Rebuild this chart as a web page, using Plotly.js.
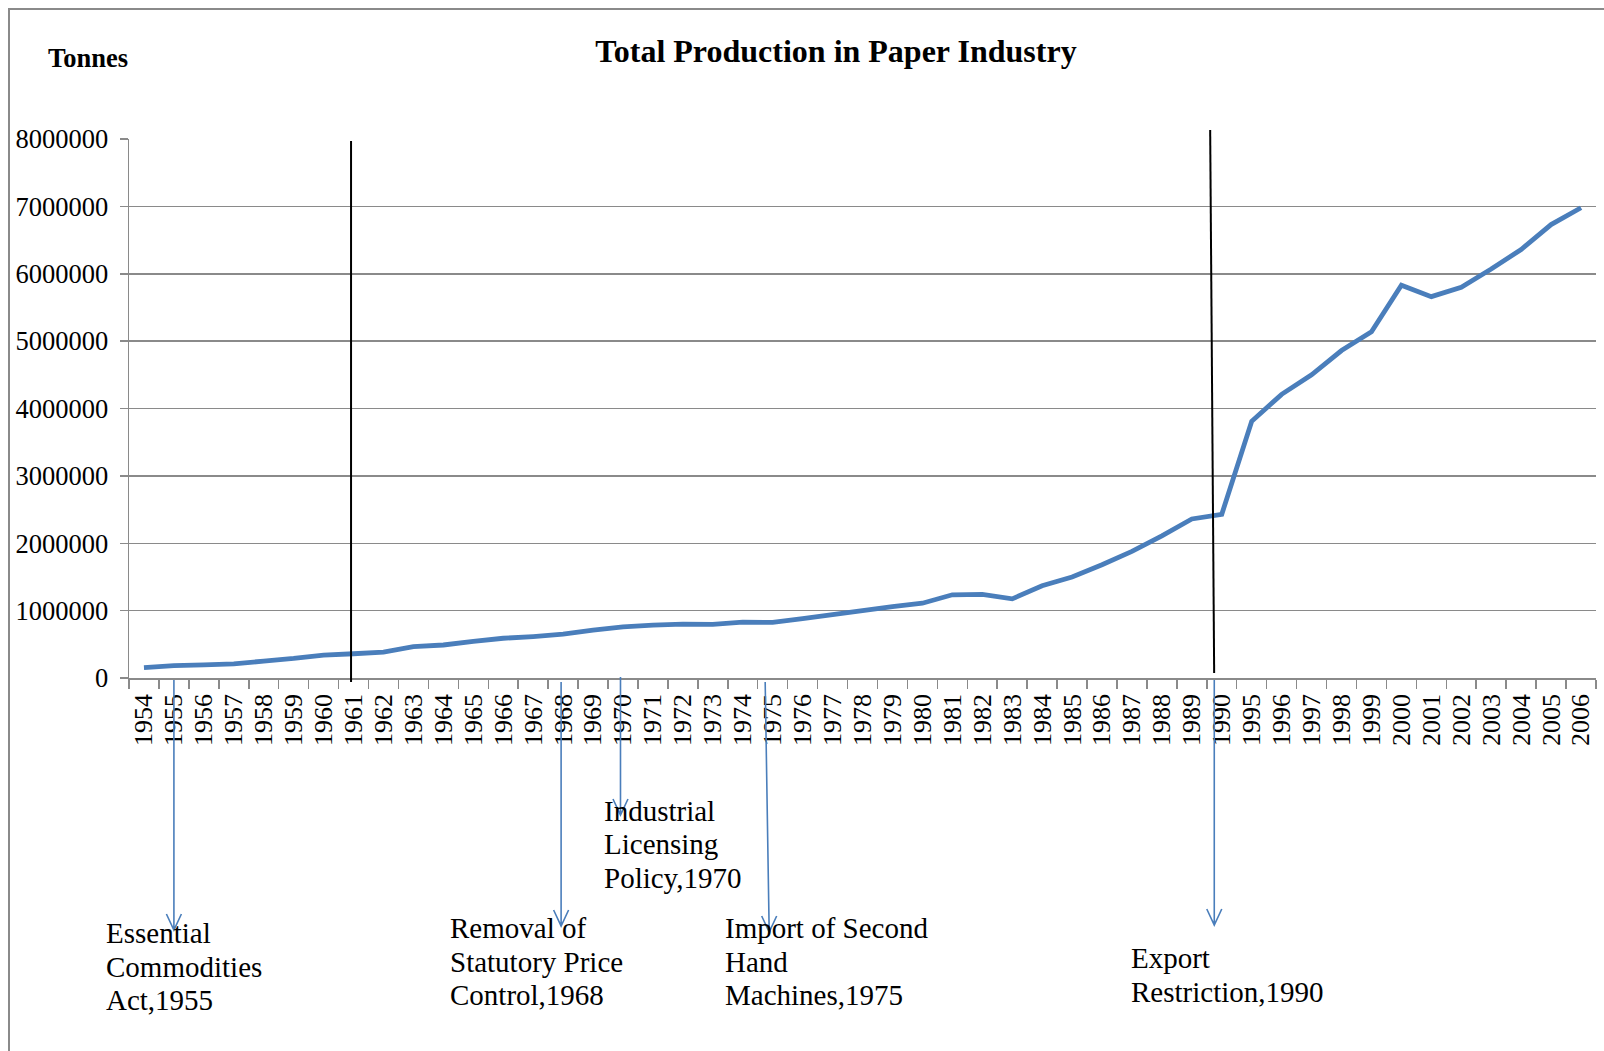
<!DOCTYPE html>
<html>
<head>
<meta charset="utf-8">
<script src="https://cdn.plot.ly/plotly-3.0.1.min.js"></script>
<style>
  html, body { margin: 0; padding: 0; background: #ffffff; }
  #chart { width: 1604px; height: 1051px; }
</style>
</head>
<body>
<div id="chart"></div>
<script>
// Years on the category axis (1991-1994 are not reported)
const years = ['1954','1955','1956','1957','1958','1959','1960','1961','1962','1963',
  '1964','1965','1966','1967','1968','1969','1970','1971','1972','1973',
  '1974','1975','1976','1977','1978','1979','1980','1981','1982','1983',
  '1984','1985','1986','1987','1988','1989','1990','1995','1996','1997',
  '1998','1999','2000','2001','2002','2003','2004','2005','2006'];

// Total paper production, tonnes
const production = [155000, 185000, 195000, 210000, 250000, 290000, 340000, 360000, 385000, 465000,
  490000, 545000, 590000, 615000, 650000, 710000, 760000, 785000, 800000, 795000,
  830000, 825000, 880000, 940000, 1000000, 1060000, 1110000, 1235000, 1240000, 1175000,
  1370000, 1500000, 1680000, 1880000, 2110000, 2360000, 2430000, 3810000, 4210000, 4500000,
  4860000, 5140000, 5830000, 5660000, 5800000, 6070000, 6360000, 6730000, 6980000];

// Value axis ticks
const yTicks = [0, 1000000, 2000000, 3000000, 4000000, 5000000, 6000000, 7000000, 8000000];

// Policy events and their captions
const policyYears = ['1955', '1968', '1970', '1975', '1990'];
const policyLabels = [
  ['Essential', 'Commodities', 'Act,1955'],
  ['Removal of', 'Statutory Price', 'Control,1968'],
  ['Industrial', 'Licensing', 'Policy,1970'],
  ['Import of Second', 'Hand', 'Machines,1975'],
  ['Export', 'Restriction,1990']
];

// Period dividers
const dividerYears = ['1961', '1990'];

// ---- page geometry ----
const W = 1604, H = 1051;
const M = { l: 129, r: 8, t: 139, b: 373 };
const plotW = W - M.l - M.r;
const plotH = H - M.t - M.b;
const px2x = px => (px - M.l) / plotW;
const px2y = py => (H - M.b - py) / plotH;

const FONT = 'Liberation Serif, "Times New Roman", serif';
const GRID = '#8a8a8a';
const BLUE = '#4a7ebb';

// Arrow / caption placement (pixel offsets from the event category, page pixels)
const eventGeom = [
  { dxTop: 0,    dxTip: 0,    top: 680, tip: 930, textX: 104,  textY: 933 },
  { dxTop: -2,   dxTip: -2,   top: 682, tip: 926, textX: 448,  textY: 928 },
  { dxTop: -2.5, dxTip: -2.5, top: 677, tip: 815, textX: 602,  textY: 811 },
  { dxTop: -7.5, dxTip: -3.5, top: 682, tip: 932, textX: 723,  textY: 928 },
  { dxTop: -7.5, dxTip: -7.5, top: 680, tip: 925, textX: 1129, textY: 958 }
];
const LINE_GAP = 33.5;

const dividerGeom = [
  { dxTop: -2.5,  dxBottom: -2.5, top: 141, bottom: 682 },
  { dxTop: -11.6, dxBottom: -7.6, top: 130, bottom: 673 }
];

const shapes = [];
const annotations = [];

// outer chart border
shapes.push({
  type: 'rect', xref: 'paper', yref: 'paper',
  x0: px2x(9), x1: px2x(1640), y0: px2y(9), y1: px2y(1090),
  line: { color: GRID, width: 2 }, fillcolor: 'rgba(0,0,0,0)', layer: 'above'
});

// black period dividers
dividerYears.forEach((yr, i) => {
  const g = dividerGeom[i];
  shapes.push({
    type: 'line', xref: 'x', yref: 'paper', xsizemode: 'pixel',
    xanchor: years.indexOf(yr),
    x0: g.dxBottom, x1: g.dxTop,
    y0: px2y(g.bottom), y1: px2y(g.top),
    line: { color: '#000000', width: 2 }
  });
});

// blue arrows with open heads, plus captions
policyYears.forEach((yr, i) => {
  const g = eventGeom[i];
  const len = g.tip - g.top;
  const path = `M${g.dxTop},${len} L${g.dxTip},0 M${g.dxTip - 7.5},16 L${g.dxTip},0 L${g.dxTip + 7.5},16`;
  shapes.push({
    type: 'path', xref: 'x', yref: 'paper',
    xsizemode: 'pixel', ysizemode: 'pixel',
    xanchor: years.indexOf(yr), yanchor: px2y(g.tip),
    path: path,
    line: { color: BLUE, width: 1.6 }
  });
  policyLabels[i].forEach((txt, j) => {
    annotations.push({
      text: txt, xref: 'paper', yref: 'paper',
      x: px2x(g.textX), y: px2y(g.textY + j * LINE_GAP),
      xanchor: 'left', yanchor: 'middle', align: 'left',
      showarrow: false,
      font: { family: FONT, size: 29, color: '#000000' }
    });
  });
});

// unit label
annotations.push({
  text: 'Tonnes', xref: 'paper', yref: 'paper',
  x: px2x(87.5), y: px2y(58), xanchor: 'center', yanchor: 'middle',
  showarrow: false,
  font: { family: FONT, size: 26.5, color: '#000000', weight: 700 }
});

const trace = {
  type: 'scatter', mode: 'lines',
  x: years, y: production,
  line: { color: BLUE, width: 4.8, simplify: false },
  hoverinfo: 'x+y'
};

const layout = {
  width: W, height: H, autosize: false,
  margin: M,
  paper_bgcolor: '#ffffff', plot_bgcolor: '#ffffff',
  showlegend: false,
  font: { family: FONT, color: '#000000' },
  title: {
    text: 'Total Production in Paper Industry',
    xref: 'container', yref: 'container',
    x: 836 / W, y: 1 - 51 / H, xanchor: 'center', yanchor: 'middle',
    font: { family: FONT, size: 32, color: '#000000', weight: 700 }
  },
  xaxis: {
    type: 'category', range: [-0.5, years.length - 0.5],
    tickmode: 'linear', tick0: 0, dtick: 1,
    tickson: 'boundaries', ticks: 'outside', ticklen: 9, tickwidth: 1.5, tickcolor: GRID,
    ticklabelstandoff: 4,
    showline: true, linecolor: GRID, linewidth: 1.5,
    showgrid: false, zeroline: false,
    tickangle: -90,
    tickfont: { family: FONT, size: 26, color: '#000000' }
  },
  yaxis: {
    range: [0, 8000000], tickvals: yTicks, tickformat: 'd',
    ticks: 'outside', ticklen: 8, tickwidth: 1.5, tickcolor: GRID,
    ticklabelstandoff: 6,
    showline: true, linecolor: GRID, linewidth: 1.5,
    showgrid: true, gridcolor: GRID, gridwidth: 1.5, zeroline: false,
    tickfont: { family: FONT, size: 26.5, color: '#000000' }
  },
  shapes: shapes,
  annotations: annotations
};

Plotly.newPlot('chart', [trace], layout, { displayModeBar: false, staticPlot: true });
</script>
</body>
</html>
